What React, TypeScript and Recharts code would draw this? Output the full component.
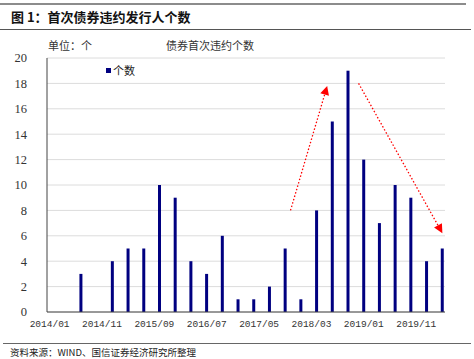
import React from "react";
import { BarChart, Bar, XAxis, YAxis, CartesianGrid, ReferenceLine } from "recharts";

// quarterly first-time default issuers
const quarterMonths = [
  "2014/01", "2014/04", "2014/07", "2014/10",
  "2015/01", "2015/04", "2015/07", "2015/10",
  "2016/01", "2016/04", "2016/07", "2016/10",
  "2017/01", "2017/04", "2017/07", "2017/10",
  "2018/01", "2018/04", "2018/07", "2018/10",
  "2019/01", "2019/04", "2019/07", "2019/10",
  "2020/01", "2020/04",
];
const counts = [0, 0, 3, 0, 4, 5, 5, 10, 9, 4, 3, 6, 1, 1, 2, 5, 1, 8, 15, 19, 12, 7, 10, 9, 4, 5];

const xTicks = ["2014/01", "2014/11", "2015/09", "2016/07", "2017/05", "2018/03", "2019/01", "2019/11"];
const yTicks = [0, 2, 4, 6, 8, 10, 12, 14, 16, 18, 20];

// monthly slots for the date axis, 2014/01 .. 2020/04
const months: string[] = [];
for (let i = 0; i < 76; i++) {
  const y = 2014 + Math.floor(i / 12);
  const m = (i % 12) + 1;
  months.push(`${y}/${m < 10 ? "0" + m : m}`);
}

const data = months.map((month) => {
  const q = quarterMonths.indexOf(month);
  return { month, count: q >= 0 ? counts[q] : null };
});

const CJK = '"Noto Sans CJK SC", "Noto Sans", sans-serif';

const arrowShape = (props: any) => {
  const { x1, y1, x2, y2 } = props;
  if ([x1, y1, x2, y2].some((v) => v == null || isNaN(v))) return <g />;
  const ang = Math.atan2(y2 - y1, x2 - x1);
  const len = 9;
  const w = 4.5;
  const bx = x2 - len * Math.cos(ang);
  const by = y2 - len * Math.sin(ang);
  const px = -Math.sin(ang) * w;
  const py = Math.cos(ang) * w;
  return (
    <g>
      <line x1={x1} y1={y1} x2={bx} y2={by} stroke="#ff0000" strokeWidth={1.3} strokeDasharray="1.5 2" />
      <polygon points={`${x2},${y2} ${bx + px},${by + py} ${bx - px},${by - py}`} fill="#ff0000" />
    </g>
  );
};

export default function App() {
  return (
    <div style={{ position: "absolute", left: 0, top: 0, width: 474, height: 359, background: "#fff" }}>
      <div style={{ position: "absolute", left: 0, top: 3, width: 466, height: 2, background: "#8c8c8c" }} />
      <div
        style={{
          position: "absolute", left: 11, top: 7, fontFamily: CJK, fontSize: 13,
          fontWeight: 700, color: "#111", whiteSpace: "nowrap",
        }}
      >
        图 1：首次债券违约发行人个数
      </div>
      <div style={{ position: "absolute", left: 0, top: 29, width: 471, height: 1, background: "#555" }} />
      <div style={{ position: "absolute", left: 48, top: 37, fontFamily: CJK, fontSize: 11, color: "#333" }}>
        单位：个
      </div>
      <div style={{ position: "absolute", left: 166, top: 37, fontFamily: CJK, fontSize: 11, color: "#333" }}>
        债券首次违约个数
      </div>

      <div style={{ position: "absolute", left: 0, top: 0 }}>
        <BarChart width={474} height={340} data={data} margin={{ top: 58, right: 29, left: 0, bottom: 0 }} barSize={3}>
          <CartesianGrid vertical={false} stroke="#dcdcdc" />
          <XAxis
            dataKey="month"
            ticks={xTicks}
            interval={0}
            height={28}
            tickLine={false}
            tickMargin={2}
            axisLine={{ stroke: "#444" }}
            tick={{ fontFamily: '"Liberation Mono", monospace', fontSize: 9.5, fill: "#333" }}
          />
          <YAxis
            domain={[0, 20]}
            ticks={yTicks}
            width={47}
            tickLine={false}
            tickMargin={14}
            axisLine={{ stroke: "#444" }}
            tick={{ fontFamily: '"Liberation Serif", serif', fontSize: 12.5, fill: "#333" }}
          />
          <Bar dataKey="count" name="个数" fill="#000080" isAnimationActive={false} />
          <ReferenceLine
            segment={[{ x: "2017/11", y: 8 }, { x: "2018/06", y: 17.8 }]}
            ifOverflow="visible"
            shape={arrowShape}
          />
          <ReferenceLine
            segment={[{ x: "2018/12", y: 18 }, { x: "2020/04", y: 6.2 }]}
            ifOverflow="visible"
            shape={arrowShape}
          />
        </BarChart>
      </div>

      <div
        style={{
          position: "absolute", left: 106, top: 62, display: "flex", alignItems: "center",
          fontFamily: CJK, fontSize: 11, color: "#222",
        }}
      >
        <span style={{ width: 5, height: 5, background: "#000080", marginRight: 2, display: "inline-block" }} />
        个数
      </div>

      <div style={{ position: "absolute", left: 3, top: 343, width: 468, height: 1, background: "#666" }} />
      <div
        style={{
          position: "absolute", left: 10, top: 345, fontFamily: CJK, fontSize: 9.5,
          color: "#222", whiteSpace: "nowrap",
        }}
      >
        资料来源：WIND、国信证券经济研究所整理
      </div>
    </div>
  );
}
